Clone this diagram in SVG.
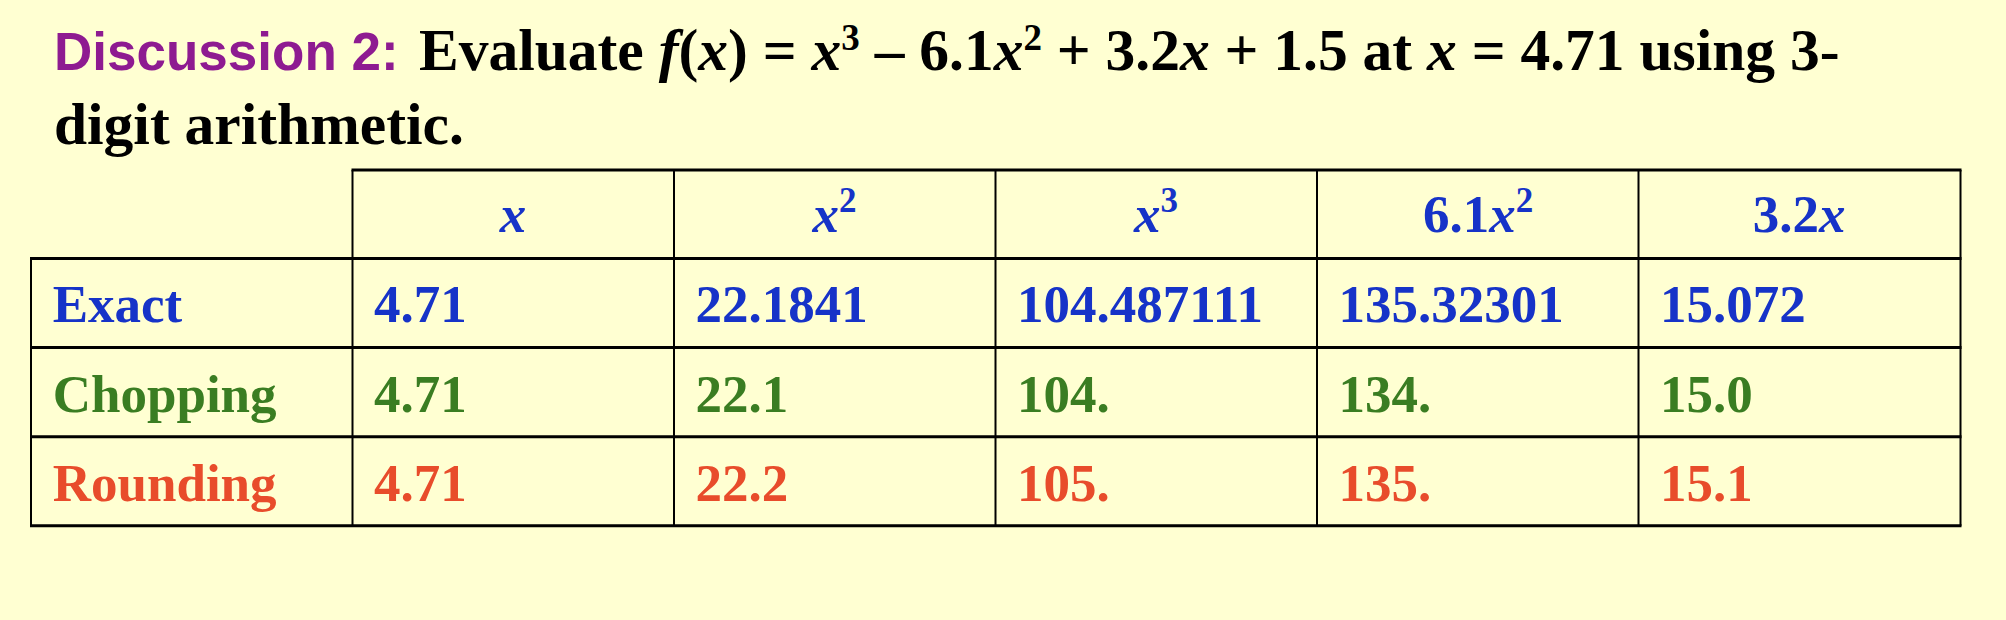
<svg xmlns="http://www.w3.org/2000/svg" width="2006" height="620" viewBox="0 0 2006 620">
<style>
.bg{fill:#FFFFD2}
.ttl{font-family:"Liberation Sans",Arial,sans-serif;font-weight:bold;font-size:53px;fill:#8E1B91}
.tm{font-family:"Liberation Serif","Times New Roman",serif;font-weight:bold;font-size:59.5px;fill:#000}
.it{font-style:italic}
.sup{font-size:37px}
.hl{stroke:#000;stroke-width:3;fill:none}
.vl{stroke:#000;stroke-width:2;fill:none}
.cell{font-family:"Liberation Serif","Times New Roman",serif;font-weight:bold;font-size:53px}
.hd{text-anchor:middle;fill:#1633C8}
.ex{fill:#1633C8}
.ch{fill:#3A7D22}
.rd{fill:#E84C2B}
.csup{font-size:35px}
</style>
<rect class="bg" x="0" y="0" width="2006" height="620"/>
<g id="title">
<text x="54" y="70"><tspan class="ttl">Discussion 2:</tspan><tspan class="tm" x="419">Evaluate <tspan class="it">f</tspan>(<tspan class="it">x</tspan>) = <tspan class="it">x</tspan><tspan class="sup" dy="-20">3</tspan><tspan dy="20"> – 6.1</tspan><tspan class="it">x</tspan><tspan class="sup" dy="-20">2</tspan><tspan dy="20"> + 3.2</tspan><tspan class="it">x</tspan> + 1.5 at <tspan class="it">x</tspan> = 4.71 using 3-</tspan></text>
<text class="tm" x="54" y="144">digit arithmetic.</text>
</g>
<g id="table-grid">
<path class="hl" d="M351.5 170H1961.5M30 258.5H1961.5M30 347.5H1961.5M30 436.7H1961.5M30 525.7H1961.5"/>
<path class="vl" d="M31 258.5V525.7M352.5 170V525.7M674 170V525.7M995.5 170V525.7M1317 170V525.7M1638.5 170V525.7M1960.5 170V525.7"/>
</g>
<g id="header" class="cell hd">
<text x="513" y="231.7" class="it">x</text>
<text x="834.5" y="231.7"><tspan class="it">x</tspan><tspan class="csup" dy="-20">2</tspan></text>
<text x="1156" y="231.7"><tspan class="it">x</tspan><tspan class="csup" dy="-20">3</tspan></text>
<text x="1478" y="231.7">6.1<tspan class="it">x</tspan><tspan class="csup" dy="-20">2</tspan></text>
<text x="1799" y="231.7">3.2<tspan class="it">x</tspan></text>
</g>
<g id="row-exact" class="cell ex">
<text x="52.7" y="321.7">Exact</text>
<text x="374" y="321.7">4.71</text>
<text x="695.5" y="321.7">22.1841</text>
<text x="1017" y="321.7">104.487111</text>
<text x="1338.5" y="321.7">135.32301</text>
<text x="1660" y="321.7">15.072</text>
</g>
<g id="row-chopping" class="cell ch">
<text x="52.7" y="411.5">Chopping</text>
<text x="374" y="411.5">4.71</text>
<text x="695.5" y="411.5">22.1</text>
<text x="1017" y="411.5">104.</text>
<text x="1338.5" y="411.5">134.</text>
<text x="1660" y="411.5">15.0</text>
</g>
<g id="row-rounding" class="cell rd">
<text x="52.7" y="500.5">Rounding</text>
<text x="374" y="500.5">4.71</text>
<text x="695.5" y="500.5">22.2</text>
<text x="1017" y="500.5">105.</text>
<text x="1338.5" y="500.5">135.</text>
<text x="1660" y="500.5">15.1</text>
</g>
</svg>
